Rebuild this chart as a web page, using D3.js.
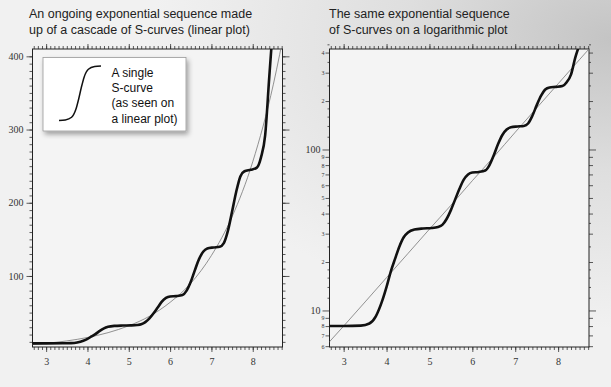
<!DOCTYPE html>
<html>
<head>
<meta charset="utf-8">
<script src="https://cdn.jsdelivr.net/npm/d3@7"></script>
<style>
  html, body { margin: 0; padding: 0; background: #eee; }
  svg { display: block; }
  .tick text { font-family: "Liberation Serif", "DejaVu Serif", serif; fill: #333; }
  .tick line { stroke: #333; stroke-width: 0.8; }
  .title { font-family: "Liberation Sans", Arial, sans-serif; font-size: 12.5px; fill: #222; }
</style>
</head>
<body>
<script>
// cascade of S-curves (x, value)
const sX = [2.6, 3.0, 3.4, 3.6, 3.75, 3.9, 4.0, 4.1, 4.2, 4.3, 4.4, 4.5, 4.65, 4.85, 5.05, 5.2, 5.3, 5.4, 5.5, 5.6, 5.7, 5.8, 5.9, 6.0, 6.15, 6.3, 6.4, 6.5, 6.6, 6.7, 6.8, 6.9, 7.05, 7.2, 7.3, 7.4, 7.5, 7.6, 7.7, 7.8, 7.95, 8.1, 8.2, 8.3, 8.4, 8.5]
const sY = [8, 8, 8.05, 8.3, 9.2, 11.5, 14, 17.5, 21, 25, 28.5, 30.5, 31.8, 32.3, 32.5, 33, 34, 37, 42, 49, 57, 65, 70, 72, 72.5, 74, 80, 92, 108, 123, 133, 137.5, 139, 140, 145, 162, 188, 215, 236, 243, 245, 248, 262, 292, 372, 450]

// the smooth exponential it follows
const eX = [2.6, 3, 3.5, 4, 4.5, 5, 5.5, 6, 6.5, 7, 7.5, 8, 8.5, 8.8]
const eY = [6.1, 8, 11.3, 16, 22.6, 32, 45, 64, 90, 128, 181, 256, 362, 445]

// small S-curve in the inset (x, y in 0..1)
const iconX = [0, 0.15, 0.3, 0.4, 0.47, 0.53, 0.6, 0.7, 0.85, 1]
const iconY = [0, 0.01, 0.06, 0.2, 0.4, 0.6, 0.8, 0.94, 0.99, 1]

const xTicks = [3, 4, 5, 6, 7, 8]
const linTicks = [100, 200, 300, 400]
const logMajor = [10, 100]
const logMinor = [6, 7, 8, 9, 20, 30, 40, 50, 60, 70, 80, 90, 200, 300, 400]

const titleLeft = ["An ongoing exponential sequence made", "up of a cascade of S-curves (linear plot)"]
const titleRight = ["The same exponential sequence", "of S-curves on a logarithmic plot"]
const insetText = ["A single", "S-curve", "(as seen on", "a linear plot)"]

const W = 611, H = 387

const svg = d3.select("body").append("svg")
  .attr("width", W).attr("height", H)

const defs = svg.append("defs")
const grad = defs.append("radialGradient").attr("id", "bg")
  .attr("cx", "100%").attr("cy", "10%").attr("r", "75%")
grad.append("stop").attr("offset", "0%").attr("stop-color", "#c4c4c4")
grad.append("stop").attr("offset", "45%").attr("stop-color", "#dedede")
grad.append("stop").attr("offset", "100%").attr("stop-color", "#f1f1f1")

defs.append("filter").attr("id", "shadow")
  .attr("x", "-10%").attr("y", "-10%").attr("width", "130%").attr("height", "140%")
  .append("feDropShadow")
  .attr("dx", 2).attr("dy", 3).attr("stdDeviation", 2.5)
  .attr("flood-color", "#000").attr("flood-opacity", 0.35)

svg.append("rect").attr("width", W).attr("height", H).attr("fill", "url(#bg)")

function xMinorTicks() {
  let t = []
  for (let i = 27; i <= 87; i++) t.push(i / 10)
  return t
}

function panel(opt) {
  const { left, right, top, bottom, y, id } = opt
  const x = d3.scaleLinear().domain([2.67, 8.72]).range([left, right])
  y.range([bottom, top])

  defs.append("clipPath").attr("id", id)
    .append("rect").attr("x", left).attr("y", top)
    .attr("width", right - left).attr("height", bottom - top)

  svg.append("rect")
    .attr("x", left).attr("y", top)
    .attr("width", right - left).attr("height", bottom - top)
    .attr("fill", "#f4f4f4")

  // x axes (bottom with labels, top ticks only)
  svg.append("g").attr("transform", `translate(0,${bottom})`)
    .call(d3.axisBottom(x).tickValues(xMinorTicks()).tickSize(3).tickFormat(""))
  svg.append("g").attr("transform", `translate(0,${bottom})`)
    .call(d3.axisBottom(x).tickValues(xTicks).tickSize(5).tickPadding(6).tickFormat(d3.format("d")))
    .selectAll("text").style("font-size", "10px")
  svg.append("g").attr("transform", `translate(0,${top})`)
    .call(d3.axisTop(x).tickValues(xMinorTicks()).tickSize(3).tickFormat(""))
  svg.append("g").attr("transform", `translate(0,${top})`)
    .call(d3.axisTop(x).tickValues(xTicks).tickSize(5).tickFormat(""))

  opt.yAxes(x, y)

  svg.selectAll(".domain").remove()

  svg.append("rect")
    .attr("x", left).attr("y", top)
    .attr("width", right - left).attr("height", bottom - top)
    .attr("fill", "none").attr("stroke", "#222").attr("stroke-width", 1)

  const g = svg.append("g").attr("clip-path", `url(#${id})`)
  const line = d3.line().x(d => x(d[0])).y(d => y(d[1])).curve(d3.curveMonotoneX)

  g.append("path").datum(d3.zip(eX, eY))
    .attr("d", line).attr("fill", "none")
    .attr("stroke", "#777").attr("stroke-width", 0.8)
  g.append("path").datum(d3.zip(sX, sY))
    .attr("d", line).attr("fill", "none")
    .attr("stroke", "#111").attr("stroke-width", 2.6)
    .attr("stroke-linejoin", "round")
  return x
}

// left: linear plot
const yLin = d3.scaleLinear().domain([3, 410])
panel({
  id: "clipL", left: 32.5, right: 282.5, top: 49, bottom: 347, y: yLin,
  yAxes: (x, y) => {
    const minor = d3.range(10, 410, 10)
    svg.append("g").attr("transform", "translate(32.5,0)")
      .call(d3.axisLeft(y).tickValues(minor).tickSize(3).tickFormat(""))
    svg.append("g").attr("transform", "translate(32.5,0)")
      .call(d3.axisLeft(y).tickValues(linTicks).tickSize(6).tickPadding(3).tickFormat(d3.format("d")))
      .selectAll("text").style("font-size", "10px")
    svg.append("g").attr("transform", "translate(282.5,0)")
      .call(d3.axisRight(y).tickValues(minor).tickSize(3).tickFormat(""))
    svg.append("g").attr("transform", "translate(282.5,0)")
      .call(d3.axisRight(y).tickValues(linTicks).tickSize(7).tickFormat(""))
  }
})

// right: logarithmic plot
const yLog = d3.scaleLog().domain([5.93, 421])
panel({
  id: "clipR", left: 329.5, right: 589, top: 49, bottom: 347, y: yLog,
  yAxes: (x, y) => {
    const fine = [1.2, 1.4, 1.6, 1.8, 2.5, 3.5, 4.5].flatMap(m => [10 * m, 100 * m])
    svg.append("g").attr("transform", "translate(329.5,0)")
      .call(d3.axisLeft(y).tickValues(fine).tickSize(2).tickFormat(""))
    svg.append("g").attr("transform", "translate(329.5,0)")
      .call(d3.axisLeft(y).tickValues(logMinor).tickSize(4).tickPadding(1)
        .tickFormat(d => String(d).charAt(0)))
      .selectAll("text").style("font-size", "6px")
    svg.append("g").attr("transform", "translate(329.5,0)")
      .call(d3.axisLeft(y).tickValues(logMajor).tickSize(7).tickPadding(2).tickFormat(d3.format("d")))
      .selectAll("text").style("font-size", "10px")
    svg.append("g").attr("transform", "translate(589,0)")
      .call(d3.axisRight(y).tickValues(fine).tickSize(2).tickFormat(""))
    svg.append("g").attr("transform", "translate(589,0)")
      .call(d3.axisRight(y).tickValues(logMinor).tickSize(4).tickFormat(""))
    svg.append("g").attr("transform", "translate(589,0)")
      .call(d3.axisRight(y).tickValues(logMajor).tickSize(7).tickFormat(""))
  }
})

// titles
function title(lines, x0) {
  svg.append("text").attr("class", "title").attr("x", x0).attr("y", 18)
    .selectAll("tspan").data(lines).join("tspan")
    .attr("x", x0).attr("dy", (d, i) => i ? 15.5 : 0).text(d => d)
}
title(titleLeft, 29)
title(titleRight, 329)

// inset with a single S-curve
const inset = svg.append("g")
inset.append("rect")
  .attr("x", 43).attr("y", 57.5).attr("width", 143).attr("height", 73.5)
  .attr("fill", "#fff").attr("stroke", "#999").attr("stroke-width", 0.8)
  .attr("filter", "url(#shadow)")
const ix = d3.scaleLinear().domain([0, 1]).range([59, 101])
const iy = d3.scaleLinear().domain([0, 1]).range([120.5, 66])
inset.append("path").datum(d3.zip(iconX, iconY))
  .attr("d", d3.line().x(d => ix(d[0])).y(d => iy(d[1])).curve(d3.curveMonotoneX))
  .attr("fill", "none").attr("stroke", "#111").attr("stroke-width", 1.5)
inset.append("text").attr("class", "title").style("font-size", "12px").style("fill", "#111")
  .attr("y", 77)
  .selectAll("tspan").data(insetText).join("tspan")
  .attr("x", 111.5).attr("dy", (d, i) => i ? 15.2 : 0).text(d => d)
</script>
</body>
</html>
